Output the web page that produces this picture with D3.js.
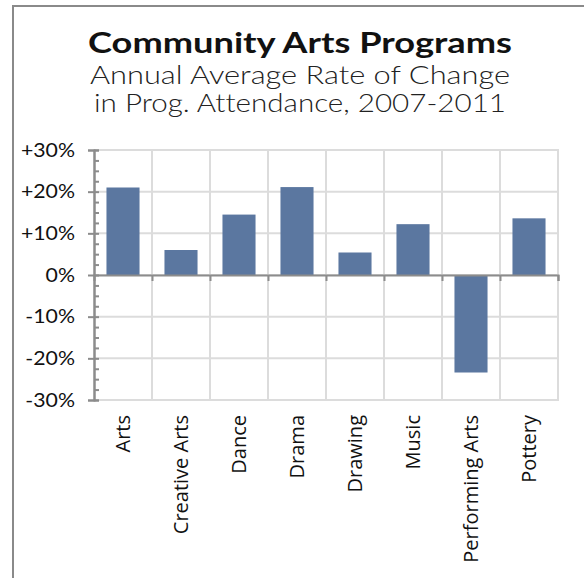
<!DOCTYPE html>
<html>
<head>
<meta charset="utf-8">
<script src="https://cdn.jsdelivr.net/npm/d3@7"></script>
<style>
  html, body { margin: 0; padding: 0; background: #fff; }
  svg { display: block; }
  text { font-variant-ligatures: none; }
</style>
</head>
<body>
<svg id="chart" width="584" height="578"></svg>
<script>
// Programs and their annual average rate of change (%), 2007-2011
const categories = ["Arts", "Creative Arts", "Dance", "Drama", "Drawing", "Music", "Performing Arts", "Pottery"];
const changeRates = [21.0, 6.0, 14.5, 21.1, 5.4, 12.2, -23.4, 13.6];
const majorTicks = [-30, -20, -10, 0, 10, 20, 30];
const tickLabels = ["-30%", "-20%", "-10%", "0%", "+10%", "+20%", "+30%"];
const titleText = "Community Arts Programs";
const subtitleLines = ["Annual Average Rate of Change", "in Prog. Attendance, 2007-2011"];

const svg = d3.select("#chart");
const W = 584, H = 578;
const plot = { left: 94, right: 558, top: 150, bottom: 400 };

const axisColor = "#8c8c8c";
const gridColor = "#dcdcdc";
const barColor = "#5b77a0";

// outer frame (left and top edges)
svg.append("path")
  .attr("d", `M13,${H} L13,6 L${W},6`)
  .attr("fill", "none")
  .attr("stroke", "#8a8a8a")
  .attr("stroke-width", 2);

// titles
const titleFont = "Lato, 'Open Sans', sans-serif";
svg.append("text")
  .attr("x", 300).attr("y", 53)
  .attr("text-anchor", "middle")
  .attr("font-family", titleFont)
  .attr("font-weight", 700)
  .attr("font-size", 29)
  .attr("fill", "#111")
  .attr("textLength", 424)
  .attr("lengthAdjust", "spacingAndGlyphs")
  .text(titleText);

const subLengths = [420, 412];
subtitleLines.forEach((line, i) => {
  svg.append("text")
    .attr("x", 300).attr("y", 84 + i * 28)
    .attr("text-anchor", "middle")
    .attr("font-family", titleFont)
    .attr("font-weight", 300)
    .attr("font-size", 25)
    .attr("fill", "#222")
    .attr("textLength", subLengths[i])
    .attr("lengthAdjust", "spacingAndGlyphs")
    .text(line);
});

// scales
const y = d3.scaleLinear().domain([-30, 30]).range([plot.bottom, plot.top]);
const x = d3.scaleBand()
  .domain(categories)
  .range([plot.left, plot.right])
  .paddingInner(0.43)
  .paddingOuter(0.215);
const slot = d3.scaleLinear().domain([0, categories.length]).range([plot.left, plot.right]);

// gridlines
const grid = svg.append("g").attr("stroke", gridColor).attr("stroke-width", 2);
grid.selectAll("line.h")
  .data(majorTicks)
  .join("line")
  .attr("class", "h")
  .attr("x1", plot.left).attr("x2", plot.right)
  .attr("y1", d => y(d)).attr("y2", d => y(d));
grid.selectAll("line.v")
  .data(d3.range(1, categories.length + 1))
  .join("line")
  .attr("class", "v")
  .attr("x1", d => slot(d)).attr("x2", d => slot(d))
  .attr("y1", plot.top - 1).attr("y2", plot.bottom + 1);

// bars
svg.append("g")
  .selectAll("rect")
  .data(categories.map((c, i) => ({ c, v: changeRates[i] })))
  .join("rect")
  .attr("x", d => x(d.c))
  .attr("width", x.bandwidth())
  .attr("y", d => y(Math.max(0, d.v)))
  .attr("height", d => Math.abs(y(d.v) - y(0)))
  .attr("fill", barColor);

// y axis: minor ticks inside, major ticks crossing with labels
const minorAxis = svg.append("g")
  .attr("transform", `translate(${plot.left},0)`)
  .call(d3.axisRight(y).tickValues(d3.range(-30, 30.01, 2.5)).tickSize(5).tickFormat(""));
const majorAxis = svg.append("g")
  .attr("transform", `translate(${plot.left},0)`)
  .call(d3.axisLeft(y).tickValues(majorTicks).tickSize(6).tickPadding(13)
    .tickFormat(d => tickLabels[majorTicks.indexOf(d)]));
[minorAxis, majorAxis].forEach(g => {
  g.select(".domain").attr("stroke", axisColor).attr("stroke-width", 2);
  g.selectAll(".tick line").attr("stroke", axisColor).attr("stroke-width", 2);
});
majorAxis.selectAll(".tick text")
  .attr("font-family", titleFont)
  .attr("font-size", 19)
  .attr("fill", "#111")
  .each(function () {
    // slightly broader numerals
    const w = this.getComputedTextLength();
    d3.select(this).attr("textLength", w * 1.12).attr("lengthAdjust", "spacingAndGlyphs");
  });

// x axis along zero, ticks at slot boundaries
const xAxis = svg.append("g")
  .attr("transform", `translate(0,${y(0)})`)
  .call(d3.axisBottom(slot).tickValues(d3.range(1, categories.length + 1)).tickSize(6).tickFormat(""));
xAxis.select(".domain").attr("stroke", axisColor).attr("stroke-width", 2);
xAxis.selectAll(".tick line").attr("stroke", axisColor).attr("stroke-width", 2);

// category labels, rotated
svg.append("g")
  .selectAll("text")
  .data(categories)
  .join("text")
  .attr("transform", d => `translate(${x(d) + x.bandwidth() / 2 + 7},415) rotate(-90)`)
  .attr("text-anchor", "end")
  .attr("font-family", "'Open Sans', sans-serif")
  .attr("font-size", 20)
  .attr("fill", "#111")
  .text(d => d);
</script>
</body>
</html>
